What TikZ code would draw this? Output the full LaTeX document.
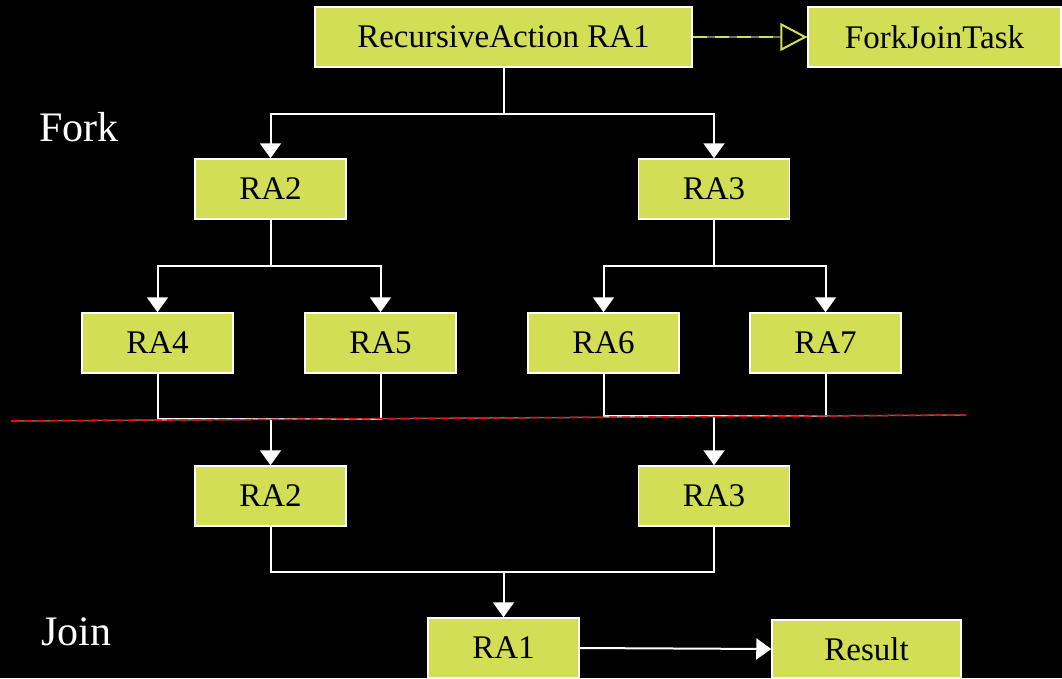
\documentclass[tikz,border=0pt]{standalone}
\usepackage{fontspec}
\setmainfont{Liberation Serif}
\usetikzlibrary{arrows.meta}
\definecolor{boxfill}{RGB}{210,222,85}
\definecolor{linkgray}{RGB}{110,110,110}
\tikzset{
  box/.style={draw=white,line width=1.5pt,fill=boxfill,minimum width=151pt,minimum height=60pt,
    inner sep=0pt,font=\fontsize{33}{38}\selectfont,text=black},
  link/.style={draw=white,line width=2pt,-{Triangle[width=21pt,length=15pt]}},
  line/.style={draw=white,line width=2pt},
  stage/.style={text=white,font=\fontsize{42}{48}\selectfont,anchor=west}
}
\begin{document}
\begin{tikzpicture}[x=1pt,y=-1pt]
\fill[black] (0,0) rectangle (1062,678);
\useasboundingbox (0,0) rectangle (1062,678);
% fork
\node[box,minimum width=377pt] (ra1) at (503.5,37) {RecursiveAction RA1};
\node[box,minimum width=253pt] (fjt) at (934.5,37) {ForkJoinTask};
\node[box] (ra2) at (270.5,189) {RA2};
\node[box] (ra3) at (714,189) {RA3};
\node[box] (ra4) at (157.5,343) {RA4};
\node[box] (ra5) at (380.5,343) {RA5};
\node[box] (ra6) at (603.5,343) {RA6};
\node[box] (ra7) at (825.5,343) {RA7};
% join
\node[box] (ra2b) at (270.5,496) {RA2};
\node[box] (ra3b) at (714,496) {RA3};
\node[box] (ra1b) at (503.5,648) {RA1};
\node[box,minimum width=189pt,minimum height=58pt] (res) at (866.5,649) {Result};
\node[stage] (fork) at (36,127) {Fork};
\node[stage] (join) at (38,632) {Join};
% extends
\draw[linkgray,line width=2pt] (ra1.east) -- (fjt.west);
\draw[boxfill,line width=2pt,dash pattern=on 14pt off 8pt,
  -{Triangle[open,width=28pt,length=27pt,fill=black]}] (ra1.east) -- (fjt.west);
% split
\draw[link] (ra1.south) -- ++(0,46) -| (ra2.north);
\draw[link] (ra1.south) -- ++(0,46) -| (ra3.north);
\draw[link] (ra2.south) -- ++(0,46) -| (ra4.north);
\draw[link] (ra2.south) -- ++(0,46) -| (ra5.north);
\draw[link] (ra3.south) -- ++(0,46) -| (ra6.north);
\draw[link] (ra3.south) -- ++(0,46) -| (ra7.north);
% merge
\coordinate (j1) at (ra2b.north |- 0,419);
\coordinate (j2) at (ra3b.north |- 0,416);
\coordinate (j3) at (ra1b.north |- 0,572);
\draw[line] (ra4.south) |- (j1) -| (ra5.south);
\draw[link] (j1) -- (ra2b.north);
\draw[line] (ra6.south) |- (j2) -| (ra7.south);
\draw[link] (j2) -- (ra3b.north);
\draw[line] (ra2b.south) |- (j3) -| (ra3b.south);
\draw[link] (j3) -- (ra1b.north);
\draw[link] (ra1b.east) -- (res.west);
% divider
\coordinate (d1) at (11,421);
\coordinate (d2) at (966,415);
\draw[linkgray,line width=1.5pt] (d1) -- (d2);
\draw[red,line width=1.5pt,dash pattern=on 8pt off 5pt] (d1) -- (d2);
\end{tikzpicture}
\end{document}
